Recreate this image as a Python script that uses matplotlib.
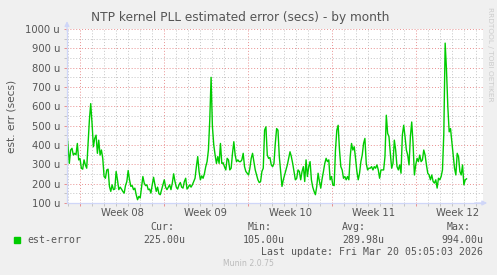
import numpy as np
import matplotlib
matplotlib.use("Agg")
import matplotlib.pyplot as plt
from matplotlib.patches import Rectangle
from matplotlib.ticker import FixedLocator, MultipleLocator
from matplotlib.transforms import blended_transform_factory

title = "NTP kernel PLL estimated error (secs) - by month"
y_label = "est. err (secs)"
week_labels = ["Week 08", "Week 09", "Week 10", "Week 11", "Week 12"]
week_starts = [0, 7, 14, 21, 28]  # days since Mon 16 Feb 2026
x_range = (-1.08, 33.58)
y_range = (100, 1000)
first_sample, last_sample = -1.11, 32.21  # days

# est-error in microseconds (uniform sampling)
est_error = [
    468, 400, 305, 374, 383, 348, 357, 350, 408, 323, 330, 280, 275, 323, 297, 280,
    408, 528, 614, 511, 391, 434, 451, 357, 425, 348, 374, 331, 237, 228, 271, 275,
    186, 160, 194, 169, 172, 263, 220, 169, 182, 172, 160, 151, 190, 211, 268, 220,
    186, 190, 169, 177, 143, 117, 134, 126, 182, 237, 203, 190, 194, 169, 172, 151,
    194, 233, 194, 160, 182, 148, 143, 169, 194, 220, 182, 169, 182, 194, 169, 203,
    251, 211, 182, 172, 194, 206, 182, 177, 211, 228, 172, 182, 194, 182, 194, 211,
    228, 288, 340, 263, 220, 240, 228, 251, 288, 314, 374, 528, 750, 494, 400, 348,
    305, 340, 305, 408, 305, 308, 288, 271, 331, 323, 271, 280, 357, 417, 348, 314,
    323, 314, 314, 323, 357, 288, 263, 254, 245, 280, 331,
    357, 314, 271, 245, 220, 206, 211, 263, 280, 477, 494, 348, 331, 335, 297, 288,
    305, 408, 485, 477, 340, 263, 186, 220, 245, 271, 297, 331, 365, 340, 305, 263,
    220, 228, 271, 263, 220, 263, 288, 211, 323, 237, 288, 314, 220, 182, 160, 143,
    186, 254, 211, 177, 225, 263, 305, 331, 314, 323, 220, 237, 194, 190, 374, 477,
    502, 374, 288, 271, 228, 237, 220, 237, 220, 340, 408, 374, 391, 331, 263, 220,
    254, 314, 348, 408, 434, 305, 271, 280, 280, 288, 271, 288, 280, 297, 271, 228,
    271, 271, 271, 340, 554, 460, 443, 357, 280, 305, 425, 374, 288, 271, 297, 254,
    451, 502, 443, 374, 348, 297, 443, 519, 408, 245, 297, 331, 314, 348, 314, 323,
    374, 348, 297, 254, 245, 220, 245, 211, 203, 220, 177, 228, 220, 237, 271, 460,
    927, 788, 597, 468, 485, 417, 348, 280, 245, 357, 340, 263, 245, 297, 194, 220,
    225,
]

series_name = "est-error"
stat_names = ["Cur:", "Min:", "Avg:", "Max:"]
stat_values = ["225.00u", "105.00u", "289.98u", "994.00u"]
last_update = "Last update: Fri Mar 20 05:05:03 2026"
footer = "Munin 2.0.75"
watermark = "RRDTOOL / TOBI OETIKER"

W, H = 497, 275
FONT = "#555555"
AXIS = "#CFD6F8"
MONO = "DejaVu Sans Mono"

fig = plt.figure(figsize=(W / 100, H / 100), dpi=100)
fig.patch.set_facecolor("#F0F0F0")

ax = fig.add_axes([67 / W, 72 / H, 416 / W, 174 / H])
ax.set_facecolor("white")
ax.set_xlim(*x_range)
ax.set_ylim(*y_range)

# grid: red dotted majors, grey dotted minors
ax.xaxis.set_major_locator(FixedLocator(week_starts))
ax.xaxis.set_minor_locator(MultipleLocator(1))
ax.yaxis.set_major_locator(MultipleLocator(100))
ax.yaxis.set_minor_locator(MultipleLocator(50))
ax.grid(which="minor", color="#c4c4c4", linestyle=(0, (1, 2)), linewidth=0.7)
ax.grid(which="major", color="#e89090", linestyle=(0, (1, 2)), linewidth=0.7)
ax.set_axisbelow(True)

ax.set_xticklabels([])
ax.set_yticklabels([f"{v:.0f} u" for v in ax.get_yticks()])
ax.tick_params(which="both", length=2, width=0.7, labelsize=7.2, labelcolor=FONT, pad=3)
ax.tick_params(axis="x", which="major", colors="#e89090")
ax.tick_params(axis="x", which="minor", colors="#c4c4c4")
ax.tick_params(axis="y", which="major", colors="#e89090", labelcolor=FONT)
ax.tick_params(axis="y", which="minor", colors="#c4c4c4")

for side in ("top", "right"):
    ax.spines[side].set_visible(False)
for side in ("left", "bottom"):
    ax.spines[side].set_color(AXIS)
    ax.spines[side].set_linewidth(0.9)

arrow = dict(arrowstyle="-|>", color=AXIS, lw=0.9, mutation_scale=7, shrinkA=0, shrinkB=0)
ax.annotate("", xy=(0, 1.045), xytext=(0, 0.99), xycoords="axes fraction",
            arrowprops=arrow, annotation_clip=False)
ax.annotate("", xy=(1.01, 0), xytext=(0.98, 0), xycoords="axes fraction",
            arrowprops=arrow, annotation_clip=False)

t = np.linspace(first_sample, last_sample, len(est_error))
ax.plot(t, est_error, color="#00CC00", linewidth=1.0, solid_joinstyle="round")

lab_tr = blended_transform_factory(ax.transData, fig.transFigure)
for start, lab in zip(week_starts, week_labels):
    ax.text(start + 3.5, 1 - 212.5 / H, lab, transform=lab_tr, ha="center", va="center",
            fontsize=7.2, color=FONT)

fig.text(240 / W, 1 - 18 / H, title, ha="center", va="center", fontsize=8.7, color=FONT)
fig.text(12 / W, 1 - 116 / H, y_label, rotation=90, ha="center", va="center",
         fontsize=7.6, color=FONT)
fig.text(490 / W, 1 - 54 / H, watermark, rotation=270, ha="center", va="center",
         fontsize=5.3, color="#cccccc")

# legend block
fig.add_artist(Rectangle((14 / W, 1 - 243 / H), 6 / W, 6 / H,
                         transform=fig.transFigure, color="#00CC00"))
fig.text(27 / W, 1 - 240 / H, series_name, ha="left", va="center",
         fontsize=7.1, family=MONO, color=FONT)
head_x = [150, 248, 342, 447]
val_x = [143, 243, 342, 441]
for hx, vx, name, val in zip(head_x, val_x, stat_names, stat_values):
    fig.text(hx / W, 1 - 227 / H, name, ha="left", va="center",
             fontsize=7.1, family=MONO, color=FONT)
    fig.text(vx / W, 1 - 240 / H, val, ha="left", va="center",
             fontsize=7.1, family=MONO, color=FONT)
fig.text(483 / W, 1 - 252 / H, last_update, ha="right", va="center",
         fontsize=7.1, family=MONO, color=FONT)
fig.text(248 / W, 1 - 264 / H, footer, ha="center", va="center",
         fontsize=5.6, color="#bbbbbb")

fig.savefig("out.png", dpi=100, facecolor=fig.get_facecolor())
